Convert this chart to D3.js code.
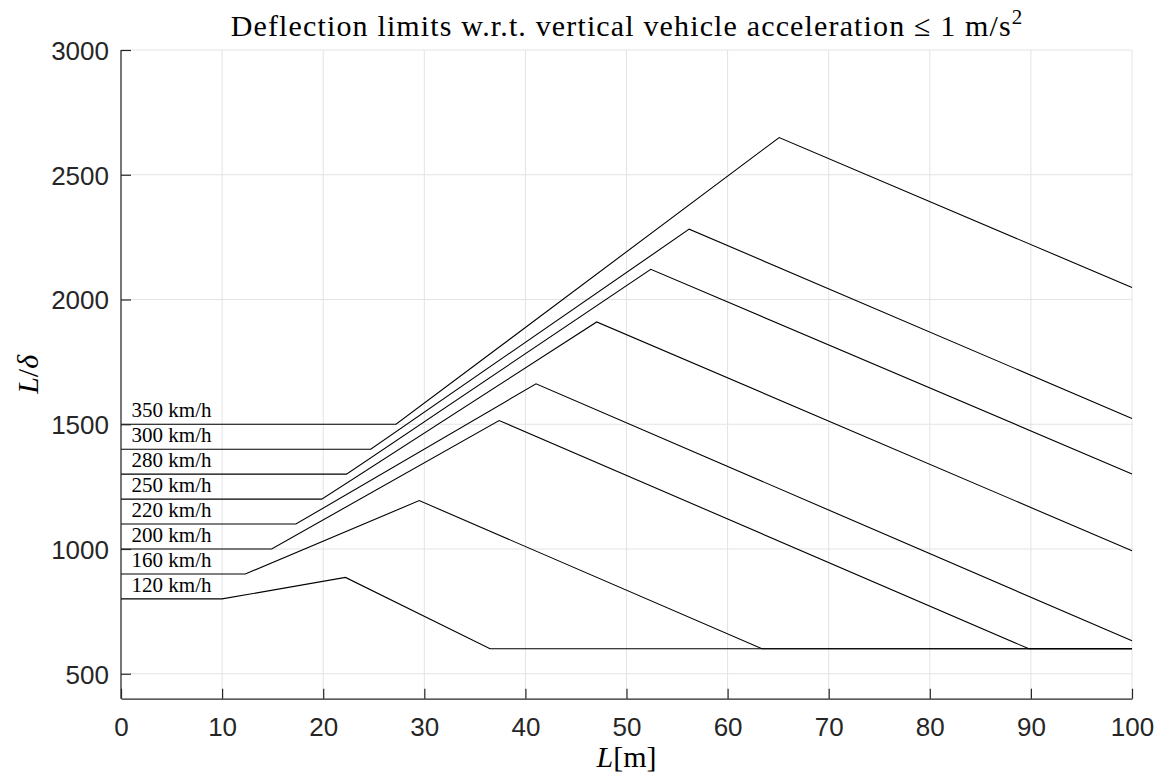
<!DOCTYPE html>
<html>
<head>
<meta charset="utf-8">
<script src="https://cdn.jsdelivr.net/npm/d3@7"></script>
<style>
  body { margin: 0; background: #fff; }
  svg { display: block; }
</style>
</head>
<body>
<script>
// speed labels, top to bottom
const speeds = ['350 km/h', '300 km/h', '280 km/h', '250 km/h', '220 km/h', '200 km/h', '160 km/h', '120 km/h'];

// [L, L/delta] break points of every curve
const v350 = [[0, 1500], [27.2, 1500], [65.1, 2649], [100, 2048]];
const v300 = [[0, 1400], [24.7, 1400], [56.2, 2282], [100, 1523]];
const v280 = [[0, 1300], [22.3, 1300], [52.4, 2121], [100, 1301]];
const v250 = [[0, 1200], [19.85, 1200], [47.05, 1910], [100, 993]];
const v220 = [[0, 1100], [17.3, 1100], [41.05, 1662], [100, 632]];
const v200 = [[0, 1000], [14.9, 1000], [37.4, 1515], [89.8, 600], [100, 600]];
const v160 = [[0, 900], [12.3, 900], [29.5, 1194], [63.4, 600], [100, 600]];
const v120 = [[0, 800], [10, 800], [22.2, 886], [36.5, 600], [100, 600]];
const curves = [v350, v300, v280, v250, v220, v200, v160, v120];

const xTicks = [0, 10, 20, 30, 40, 50, 60, 70, 80, 90, 100];
const yTicks = [500, 1000, 1500, 2000, 2500, 3000];

const width = 1159;
const height = 776;
const margin = { top: 50, right: 27, bottom: 77, left: 121 };
const serif = "'Liberation Serif', 'DejaVu Serif', serif";
const sans = "'Liberation Sans', Arial, Helvetica, sans-serif";
const axisColor = '#262626';
const gridColor = '#e3e3e3';

const svg = d3.select('body')
  .append('svg')
  .attr('width', width)
  .attr('height', height);

const x = d3.scaleLinear()
  .domain([0, 100])
  .range([margin.left, width - margin.right]);

const y = d3.scaleLinear()
  .domain([400, 3000])
  .range([height - margin.bottom - 0.3, margin.top]);

// GRID
svg.append('g')
  .selectAll('line')
  .data(xTicks)
  .join('line')
  .attr('x1', d => x(d)).attr('x2', d => x(d))
  .attr('y1', y(400)).attr('y2', y(3000))
  .attr('stroke', gridColor)
  .attr('stroke-width', 1);

svg.append('g')
  .selectAll('line')
  .data(yTicks)
  .join('line')
  .attr('x1', x(0)).attr('x2', x(100))
  .attr('y1', d => y(d)).attr('y2', d => y(d))
  .attr('stroke', gridColor)
  .attr('stroke-width', 1);

// CURVES
const line = d3.line()
  .x(d => x(d[0]))
  .y(d => y(d[1]));

svg.append('g')
  .selectAll('path')
  .data(curves)
  .join('path')
  .attr('d', line)
  .attr('fill', 'none')
  .attr('stroke', '#000')
  .attr('stroke-width', 1.1);

// speed labels sit on top of the flat part of each curve
svg.append('g')
  .selectAll('text')
  .data(curves)
  .join('text')
  .attr('x', x(1.05))
  .attr('y', d => y(d[0][1]) - 7)
  .style('font-family', serif)
  .style('font-size', '21px')
  .attr('fill', '#000')
  .text((d, i) => speeds[i]);

// X-AXIS
const xAxis = d3.axisBottom(x)
  .tickValues(xTicks)
  .tickFormat(d3.format('d'))
  .tickSizeInner(-10)
  .tickSizeOuter(0)
  .tickPadding(18);

const gx = svg.append('g')
  .attr('transform', `translate(0, ${y(400)})`)
  .call(xAxis);

// Y-AXIS
const yAxis = d3.axisLeft(y)
  .tickValues(yTicks)
  .tickFormat(d3.format('d'))
  .tickSizeInner(-10)
  .tickSizeOuter(0)
  .tickPadding(12);

const gy = svg.append('g')
  .attr('transform', `translate(${x(0)}, 0)`)
  .call(yAxis);

[gx, gy].forEach(g => {
  g.select('.domain').attr('stroke', axisColor).attr('stroke-width', 1.2);
  g.selectAll('.tick line').attr('stroke', axisColor).attr('stroke-width', 1.2);
  g.selectAll('.tick text')
    .attr('fill', axisColor)
    .style('font-family', sans)
    .style('font-size', '26px');
});
gx.selectAll('.tick text').attr('dy', '0.75em');
gy.selectAll('.tick text').attr('dy', '0.36em');
// the y-axis line reaches the top of the box
gy.select('.domain').attr('d', `M0,${y(400)}V${y(3000)}`);

// TITLE
const title = svg.append('text')
  .attr('x', (x(0) + x(100)) / 2)
  .attr('y', 36)
  .attr('text-anchor', 'middle')
  .style('font-family', serif)
  .style('font-size', '30px')
  .attr('fill', '#000');
title.append('tspan')
  .attr('textLength', 780)
  .attr('lengthAdjust', 'spacing')
  .text('Deflection limits w.r.t. vertical vehicle acceleration \u2264 1 m/s');
title.append('tspan').attr('dy', -12).style('font-size', '21px').text('2');

// AXIS LABELS
const xLabel = svg.append('text')
  .attr('x', (x(0) + x(100)) / 2)
  .attr('y', 767)
  .attr('text-anchor', 'middle')
  .style('font-family', serif)
  .style('font-size', '30px')
  .attr('fill', '#000');
xLabel.append('tspan').style('font-style', 'italic').text('L');
xLabel.append('tspan').text('[m]');

const yLabel = svg.append('text')
  .attr('transform', `translate(38, ${(y(400) + y(3000)) / 2}) rotate(-90)`)
  .attr('text-anchor', 'middle')
  .style('font-family', serif)
  .style('font-size', '30px')
  .attr('fill', '#000');
yLabel.append('tspan').style('font-style', 'italic').text('L');
yLabel.append('tspan').text('/');
yLabel.append('tspan').style('font-style', 'italic').text('\u03b4');
</script>
</body>
</html>
